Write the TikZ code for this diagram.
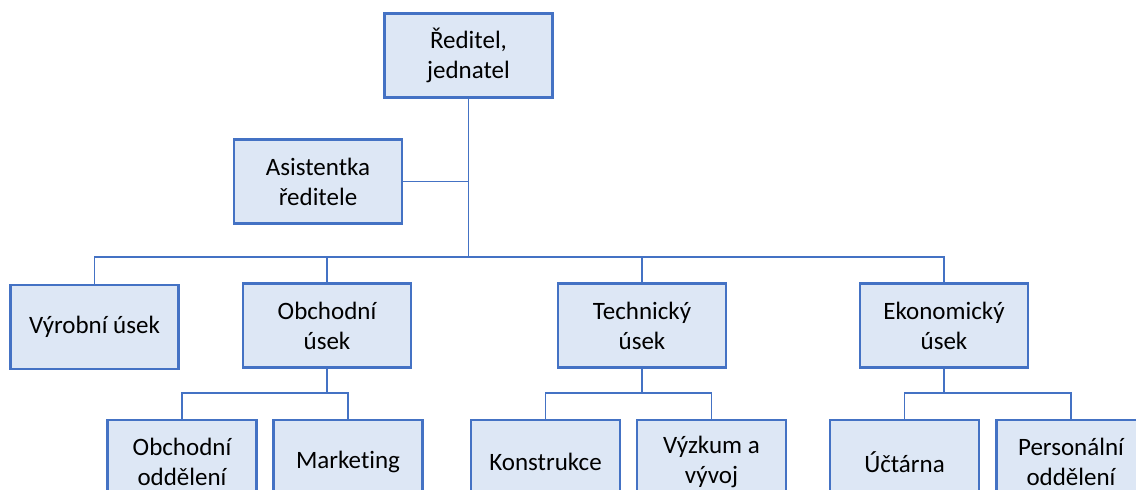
\documentclass[tikz,border=0pt]{standalone}
\usepackage{fontspec}
\setmainfont[Ligatures=NoCommon]{Carlito}
\definecolor{boxline}{RGB}{68,114,196}
\definecolor{boxfill}{RGB}{221,231,245}
\tikzset{
  unit/.style={draw=boxline, fill=boxfill, line width=2.5pt, inner sep=0pt,
    align=center, font=\fontsize{25}{30}\selectfont},
  mainbox/.style={unit, minimum width=168pt, minimum height=84pt},
  subbox/.style={unit, minimum width=149pt, minimum height=84pt},
  conn/.style={draw=boxline, line width=1.5pt}
}
\begin{document}
\begin{tikzpicture}[x=1pt, y=-1pt]
  \clip (0,0) rectangle (1136,490);
  \fill[white] (0,0) rectangle (1136,490);

  % top management
  \node[mainbox] (dir) at (468.5,55.5) {Ředitel,\\jednatel};
  \node[mainbox] (asist) at (318,181.5) {Asistentka\\ředitele};

  % divisions
  \node[mainbox] (vyr)  at (94.5,327)   {Výrobní úsek};
  \node[mainbox] (obch) at (327,325.5)  {Obchodní\\úsek};
  \node[mainbox] (tech) at (642,325.5)  {Technický\\úsek};
  \node[mainbox] (ekon) at (944,325.5)  {Ekonomický\\úsek};

  % departments
  \node[subbox] (obod)  at (182,462)    {Obchodní\\oddělení};
  \node[subbox] (mark)  at (348,462)    {Marketing};
  \node[subbox] (konst) at (545.5,462)  {Konstrukce};
  \node[subbox] (vyzk)  at (711.5,462)  {Výzkum a\\vývoj};
  \node[subbox] (uct)   at (904.5,462)  {Účtárna};
  \node[subbox] (pers)  at (1071,462)   {Personální\\oddělení};

  % levels of the horizontal bars
  \coordinate (jn) at (468.5,257);
  \coordinate (lv) at (0,393);

  % director to divisions, assistant branch
  \draw[conn] (dir.south) -- (jn);
  \draw[conn] (asist.east) -- (asist.east -| jn);
  \draw[conn] (vyr.north) -- (vyr.north |- jn) -- (ekon.north |- jn) -- (ekon.north);
  \draw[conn] (obch.north) -- (obch.north |- jn);
  \draw[conn] (tech.north) -- (tech.north |- jn);

  % divisions to departments
  \draw[conn] (obch.south) -- (obch.south |- lv);
  \draw[conn] (obod.north) -- (obod.north |- lv) -- (mark.north |- lv) -- (mark.north);
  \draw[conn] (tech.south) -- (tech.south |- lv);
  \draw[conn] (konst.north) -- (konst.north |- lv) -- (vyzk.north |- lv) -- (vyzk.north);
  \draw[conn] (ekon.south) -- (ekon.south |- lv);
  \draw[conn] (uct.north) -- (uct.north |- lv) -- (pers.north |- lv) -- (pers.north);
\end{tikzpicture}
\end{document}
